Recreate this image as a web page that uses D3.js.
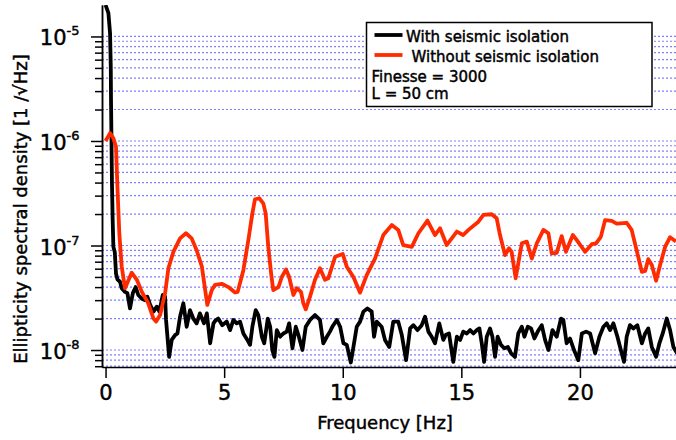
<!DOCTYPE html>
<html>
<head>
<meta charset="utf-8">
<script src="https://d3js.org/d3.v7.min.js"></script>
<style>
  body { margin: 0; background: #fff; }
  svg { display: block; font-family: 'DejaVu Sans', sans-serif; }
  svg text { fill: #000; stroke: #000; stroke-width: 0.45px; }
</style>
</head>
<body>
<svg class="psd-chart"></svg>
<script>
'use strict';

//Data: frequency [Hz] and ellipticity density [1/sqrt(Hz)]
var freqWith = [0.00, 0.12, 0.19, 0.22, 0.23, 0.25, 0.27, 0.30, 0.33, 0.39, 0.44, 0.50, 0.61, 0.68, 0.82, 0.92,
  1.03, 1.15, 1.27, 1.38, 1.53, 1.67, 1.76, 1.88, 2.02, 2.16, 2.27, 2.41, 2.51, 2.55, 2.68, 2.79, 2.93,
  3.03, 3.14, 3.28, 3.42, 3.56, 3.70, 3.84, 3.98, 4.15, 4.27, 4.41, 4.55, 4.62, 4.75, 4.92,
  5.11, 5.25, 5.39, 5.53, 5.67, 5.81, 5.98, 6.09, 6.19, 6.33, 6.44, 6.59, 6.69, 6.84, 6.94,
  7.03, 7.12, 7.22, 7.36, 7.50, 7.64, 7.74, 7.88, 8.02, 8.13, 8.30, 8.44, 8.62, 8.83,
  9.04, 9.18, 9.33, 9.46, 9.58, 9.75, 9.89, 10.03, 10.17, 10.34, 10.45, 10.59, 10.73, 10.87,
  11.04, 11.22, 11.32, 11.43, 11.64, 11.78, 11.96, 12.13, 12.34, 12.49, 12.67, 12.84, 12.98,
  13.15, 13.33, 13.47, 13.61, 13.75, 13.89, 14.07, 14.24, 14.35, 14.48, 14.66, 14.81, 14.95,
  15.08, 15.23, 15.37, 15.51, 15.65, 15.76, 15.86, 15.96, 16.07, 16.21, 16.31, 16.42, 16.53,
  16.67, 16.81, 16.96, 17.10, 17.26, 17.40, 17.55, 17.66, 17.80, 17.94, 18.08, 18.22, 18.39,
  18.53, 18.67, 18.84, 19.02, 19.20, 19.30, 19.44, 19.58, 19.75, 19.93, 20.08, 20.26, 20.43,
  20.64, 20.82, 20.99, 21.13, 21.27, 21.41, 21.58, 21.76, 21.86, 21.97, 22.11, 22.25, 22.42,
  22.61, 22.75, 22.88, 23.03, 23.21, 23.35, 23.49, 23.66, 23.80, 23.94, 24.10];
var densityWith = [2.0e-5, 1.67e-5, 1.07e-5, 5.1e-6, 2.47e-6, 1.02e-6, 3.94e-7, 1.75e-7, 9.7e-8, 8.6e-8, 5.4e-8, 4.75e-8, 4.5e-8, 3.9e-8, 3.6e-8, 3.5e-8,
  2.5e-8, 3.5e-8, 4.0e-8, 3.36e-8, 3.1e-8, 3.0e-8, 3.24e-8, 2.7e-8, 2.33e-8, 2.6e-8, 2.33e-8, 3.36e-8, 3.24e-8, 1.94e-8, 8.6e-9, 1.25e-8, 1.39e-8,
  1.44e-8, 2.08e-8, 2.8e-8, 1.67e-8, 2.41e-8, 2.0e-8, 1.8e-8, 2.24e-8, 1.8e-8, 2.24e-8, 1.16e-8, 1.8e-8, 1.9e-8, 2.0e-8, 1.73e-8,
  1.87e-8, 1.55e-8, 1.94e-8, 1.8e-8, 1.87e-8, 1.44e-8, 1.25e-8, 1.12e-8, 1.67e-8, 2.41e-8, 2.16e-8, 1.34e-8, 1.16e-8, 2.0e-8, 1.67e-8,
  1.0e-8, 8.6e-9, 1.55e-8, 1.34e-8, 1.44e-8, 1.5e-8, 1.8e-8, 1.04e-8, 1.67e-8, 1.39e-8, 1.0e-8, 1.67e-8, 1.94e-8, 2.16e-8,
  1.94e-8, 1.16e-8, 1.34e-8, 1.5e-8, 1.7e-8, 1.94e-8, 1.67e-8, 1.16e-8, 1.12e-8, 7.6e-9, 1.07e-8, 1.67e-8, 1.87e-8, 2.33e-8,
  2.5e-8, 2.33e-8, 1.34e-8, 1.87e-8, 1.67e-8, 1.25e-8, 1.07e-8, 1.87e-8, 1.87e-8, 1.39e-8, 8.0e-9, 1.61e-8, 1.73e-8,
  1.55e-8, 1.73e-8, 2.08e-8, 1.5e-8, 1.34e-8, 1.16e-8, 1.8e-8, 1.25e-8, 1.4e-8, 1.44e-8, 7.7e-9, 1.34e-8, 1.25e-8,
  1.5e-8, 1.44e-8, 1.55e-8, 1.44e-8, 1.55e-8, 1.61e-8, 1.16e-8, 7.7e-9, 1.34e-8, 1.61e-8, 1.34e-8, 8.6e-9, 1.34e-8,
  1.12e-8, 1.04e-8, 1.07e-8, 9.3e-9, 8.6e-9, 1.44e-8, 1.67e-8, 1.34e-8, 1.67e-8, 1.61e-8, 1.29e-8, 1.5e-8, 1.73e-8,
  1.25e-8, 1.0e-8, 1.55e-8, 1.34e-8, 2.0e-8, 1.94e-8, 1.16e-8, 1.29e-8, 1.0e-8, 8.0e-9, 1.44e-8, 1.5e-8, 1.44e-8,
  9.3e-9, 1.34e-8, 1.67e-8, 1.8e-8, 1.55e-8, 1.8e-8, 1.34e-8, 9.3e-9, 7.7e-9, 1.34e-8, 1.73e-8, 1.61e-8, 1.73e-8,
  1.16e-8, 1.44e-8, 1.61e-8, 1.07e-8, 8.6e-9, 1.16e-8, 1.44e-8, 2.0e-8, 1.55e-8, 1.07e-8, 9.3e-9];

var freqWithout = [0.00, 0.19, 0.33, 0.44, 0.50, 0.58, 0.68, 0.82, 1.10, 1.32, 1.53, 1.80, 2.02, 2.13, 2.30, 2.51, 2.65, 2.86,
  3.14, 3.39, 3.63, 3.84, 4.06, 4.24, 4.29, 4.48, 4.62, 4.90, 5.18, 5.46, 5.57, 5.81, 6.02, 6.19, 6.30, 6.48, 6.65, 6.75, 6.86, 6.98,
  7.07, 7.29, 7.43, 7.61, 7.74, 7.92, 8.06, 8.24, 8.34, 8.44, 8.62, 8.83, 9.04, 9.25, 9.39, 9.68, 10.00, 10.17, 10.45, 10.73,
  11.01, 11.36, 11.71, 12.07, 12.34, 12.55, 12.91, 13.19, 13.57, 13.89, 14.10, 14.38, 14.81, 15.08, 15.30, 15.72, 15.93,
  16.28, 16.49, 16.63, 16.84, 17.01, 17.12, 17.29, 17.55, 17.76, 17.97, 18.18, 18.46, 18.67, 18.81, 19.02, 19.23, 19.41,
  19.70, 19.86, 20.22, 20.50, 20.68, 20.88, 21.06, 21.34, 21.55, 21.97, 22.18, 22.39, 22.61, 22.75, 22.88, 23.03, 23.21,
  23.38, 23.59, 23.80, 24.05];
var densityWithout = [1.0e-6, 1.19e-6, 1.06e-6, 8.8e-7, 3.65e-7, 1.31e-7, 6.3e-8, 3.9e-8, 5.5e-8, 4.7e-8, 3.6e-8, 2.8e-8, 2.0e-8, 1.87e-8, 2.16e-8, 3.5e-8, 6.05e-8, 8.7e-8,
  1.17e-7, 1.31e-7, 1.17e-7, 9.0e-8, 6.3e-8, 3.24e-8, 2.7e-8, 3.75e-8, 4.2e-8, 4.3e-8, 4.0e-8, 3.55e-8, 3.6e-8, 5.8e-8, 1.13e-7, 2.03e-7, 2.77e-7, 2.83e-7, 2.53e-7, 2.03e-7, 9.7e-8, 5.4e-8,
  3.75e-8, 4.0e-8, 5.0e-8, 5.9e-8, 5.0e-8, 3.36e-8, 3.9e-8, 3.6e-8, 2.8e-8, 2.45e-8, 3.24e-8, 4.7e-8, 6.05e-8, 4.7e-8, 4.85e-8, 7.8e-8, 8.3e-8, 6.27e-8, 5.0e-8, 3.54e-8,
  5.2e-8, 7.5e-8, 1.26e-7, 1.57e-7, 1.41e-7, 1.01e-7, 9.7e-8, 1.31e-7, 1.73e-7, 1.26e-7, 1.46e-7, 1.01e-7, 1.36e-7, 1.26e-7, 1.41e-7, 1.69e-7, 1.96e-7,
  1.99e-7, 1.82e-7, 1.26e-7, 8.1e-8, 9.4e-8, 8.7e-8, 4.86e-8, 1.05e-7, 1.09e-7, 7.5e-8, 1.05e-7, 1.41e-7, 1.31e-7, 8.4e-8, 8.5e-8, 1.23e-7, 8.7e-8,
  1.26e-7, 1.13e-7, 8.7e-8, 1.03e-7, 1.05e-7, 1.21e-7, 1.75e-7, 1.72e-7, 1.62e-7, 1.65e-7, 1.41e-7, 9.0e-8, 5.6e-8, 5.7e-8, 7.4e-8, 6.5e-8, 4.6e-8,
  6.5e-8, 9.7e-8, 1.2e-7, 1.09e-7];

var seriesNames = ['With seismic isolation', 'Without seismic isolation'];
var seriesColors = ['#000000', '#ff2a00'];
var legendNotes = ['Finesse = 3000', 'L = 50 cm'];
var xTicks = [0, 5, 10, 15, 20];
var yDecades = [-8, -7, -6, -5];
var xDomain = [-0.15, 24.05];
var yDomain = [6.88e-9, 2e-5];

function drawChart() {
  //Parameters for svg element
  var width = 676, height = 440;
  var margin = { top: 5, right: 0, bottom: 73, left: 102 };
  var graphWidth = width - margin.left - margin.right;
  var graphHeight = height - margin.top - margin.bottom;

  //Scales
  var xScale = d3.scaleLinear().domain(xDomain).range([0, graphWidth]);
  var yScale = d3.scaleLog().domain(yDomain).range([graphHeight, 0]);

  var majorTicks = yDecades.map(function (e) { return Math.pow(10, e); });
  var minorTicks = [];
  for (var e = -9; e <= -6; e++) {
    for (var m = 2; m <= 9; m++) {
      var v = m * Math.pow(10, e);
      if (v > yDomain[0] && v < 1e-5) minorTicks.push(v);
    }
  }

  var svg = d3.select('svg.psd-chart').attr('width', width).attr('height', height);
  var graph = svg.append('g').attr('transform', 'translate(' + margin.left + ',' + margin.top + ')');

  svg.append('defs').append('clipPath').attr('id', 'plot-clip')
    .append('rect').attr('x', 0).attr('y', 0).attr('width', graphWidth).attr('height', graphHeight);

  //Horizontal dotted grid on every decade and sub-decade
  graph.append('g').classed('grid', true)
    .selectAll('line').data(majorTicks.concat(minorTicks)).enter().append('line')
    .attr('x1', 0).attr('x2', graphWidth)
    .attr('y1', function (d) { return yScale(d); })
    .attr('y2', function (d) { return yScale(d); })
    .attr('stroke', '#8080ff').attr('stroke-width', 1.2).attr('stroke-dasharray', '2,2');

  //Curves
  var line = d3.line()
    .x(function (d) { return xScale(d[0]); })
    .y(function (d) { return yScale(d[1]); });

  var curves = [d3.zip(freqWith, densityWith), d3.zip(freqWithout, densityWithout)];
  graph.append('g').attr('clip-path', 'url(#plot-clip)')
    .selectAll('path').data(curves).enter().append('path')
    .attr('d', line).attr('fill', 'none')
    .attr('stroke', function (d, i) { return seriesColors[i]; })
    .attr('stroke-width', 3.8).attr('stroke-linejoin', 'round');

  //Draw x-axis
  var xAxis = graph.append('g').attr('transform', 'translate(0,' + graphHeight + ')')
    .call(d3.axisBottom(xScale).tickValues(xTicks).tickSize(11).tickSizeOuter(0).tickPadding(7));
  xAxis.selectAll('text').attr('font-size', 21).attr('font-family', 'DejaVu Sans');

  //Draw y-axis (major and minor ticks)
  graph.append('g')
    .call(d3.axisLeft(yScale).tickValues(minorTicks).tickSize(7).tickSizeOuter(0).tickFormat(''));
  var yAxis = graph.append('g')
    .call(d3.axisLeft(yScale).tickValues(majorTicks).tickSize(11).tickSizeOuter(0).tickFormat(''));

  graph.selectAll('.domain, .tick line').attr('stroke', '#000').attr('stroke-width', 1.5);

  //Power-of-ten labels
  var yLabels = yAxis.selectAll('.tick').append('text')
    .attr('x', -22.5).attr('y', 8.5).attr('text-anchor', 'end').attr('font-family', 'DejaVu Sans');
  yLabels.append('tspan').attr('font-size', 21).text('10');
  yLabels.append('tspan').attr('font-size', 13).attr('dy', -10)
    .text(function (d) { return '-' + Math.round(-Math.log10(d)); });

  //Draw x-axis label
  graph.append('text').attr('x', 283).attr('y', graphHeight + 62)
    .attr('text-anchor', 'middle').attr('font-size', 18).text('Frequency [Hz]');

  //Draw y-axis label
  svg.append('text').attr('transform', 'translate(27,209) rotate(-90)')
    .attr('text-anchor', 'middle').attr('font-size', 18).text('Ellipticity spectral density [1 /\u221AHz]');

  //Legend
  var legend = svg.append('g').attr('transform', 'translate(366.5,22.5)');
  legend.append('rect').attr('width', 285.5).attr('height', 84)
    .attr('fill', '#fff').attr('stroke', '#000').attr('stroke-width', 1.5);

  var entries = legend.selectAll('g.entry').data(seriesNames).enter().append('g').classed('entry', true)
    .attr('transform', function (d, i) { return 'translate(0,' + (12.5 + i * 20) + ')'; });
  entries.append('line').attr('x1', 8).attr('x2', 36).attr('y1', 0).attr('y2', 0)
    .attr('stroke', function (d, i) { return seriesColors[i]; }).attr('stroke-width', 3.8);
  entries.append('text').attr('x', function (d, i) { return i === 0 ? 39.5 : 45; }).attr('y', 7)
    .attr('font-size', 15).text(function (d) { return d; });

  legend.selectAll('text.note').data(legendNotes).enter().append('text').classed('note', true)
    .attr('x', 5).attr('y', function (d, i) { return 59 + i * 17.5; })
    .attr('font-size', 15).text(function (d) { return d; });
}

drawChart();
</script>
</body>
</html>
